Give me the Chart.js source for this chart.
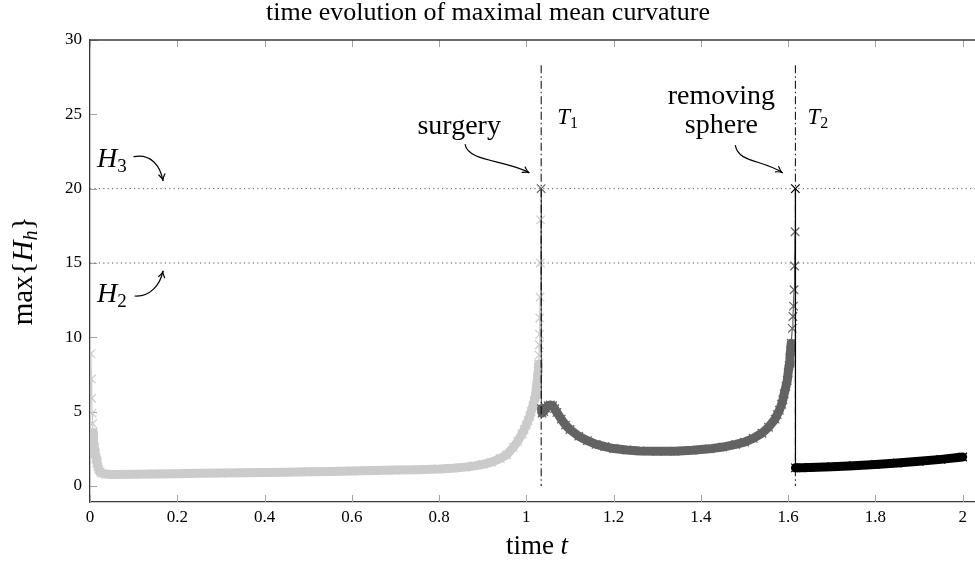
<!DOCTYPE html>
<html><head><meta charset="utf-8">
<script src="https://cdn.jsdelivr.net/npm/chart.js@4.4.0/dist/chart.umd.min.js"></script>
<style>html,body{margin:0;padding:0;background:#fff;overflow:hidden;width:975px;height:563px}canvas{display:block}</style>
</head><body><canvas id="c" width="990" height="563"></canvas>
<script>
// ---------- data ----------
const tLight = [0.002,0.003,0.004,0.005,0.006,0.007,0.008,0.010,0.012,0.014,0.016,0.018,0.020,0.023,0.027,0.035,0.05,
  0.1,0.15,0.2,0.25,0.3,0.35,0.4,0.45,0.5,0.55,0.6,0.65,0.7,0.75,0.8,0.83,0.86,0.88,0.9,0.92,0.94,0.955,0.97,0.98,0.99,0.995,
  1.0,1.004,1.008,1.011,1.015,1.018,1.02,1.022,1.024,1.0255,1.027,1.028,1.029,1.03,1.0305,1.031,1.0315,1.0322,1.0328];
const hLight = [8.9,7.2,5.9,4.9,4.2,3.6,3.1,2.6,2.2,1.85,1.55,1.3,1.1,0.95,0.85,0.8,0.78,
  0.79,0.81,0.83,0.85,0.87,0.89,0.91,0.93,0.96,0.98,1.01,1.04,1.07,1.1,1.15,1.2,1.27,1.35,1.45,1.6,1.85,2.1,2.6,3.0,3.5,3.8,
  4.1,4.4,4.7,5.0,5.4,5.7,6.0,6.4,6.8,7.2,7.7,8.2,8.8,9.5,10.2,11.3,12.7,15.0,17.9];

const tDark = [1.034,1.0345,1.036,1.04,1.045,1.05,1.055,1.06,1.065,1.07,1.08,1.09,1.1,1.12,1.14,1.16,1.18,1.2,1.23,1.26,
  1.3,1.34,1.38,1.42,1.45,1.48,1.5,1.52,1.54,1.555,1.57,1.575,1.58,1.585,1.588,1.591,1.595,1.598,1.6,1.602,1.604,1.6055,1.607,
  1.6095,1.611,1.6122,1.6135,1.6148,1.616];
const hDark = [20,5.2,4.9,5.0,5.25,5.4,5.45,5.4,5.2,4.95,4.5,4.1,3.8,3.35,3.05,2.8,2.65,2.52,2.42,2.36,
  2.33,2.34,2.4,2.5,2.62,2.8,2.95,3.2,3.55,3.95,4.5,4.8,5.1,5.5,5.8,6.2,6.7,7.1,7.6,8.1,8.6,9.1,9.6,
  10.6,11.4,12.1,13.2,14.8,17.1];

const tBlack = [1.6166,1.6168,1.63,1.65,1.7,1.75,1.8,1.85,1.9,1.95,2.0];
const hBlack = [20,1.22,1.23,1.25,1.3,1.37,1.45,1.55,1.66,1.79,1.95];

const surgeryTimes = [1.034, 1.6166];   // T1, T2
const vlineTop = 28.3, vlineBottom = 0;
const hLevels = [20, 15];               // H3, H2

const xMin = 0, xMax = 2.0397, yMin = -1.076, yMax = 30;
const xTickValues = [0,0.2,0.4,0.6,0.8,1,1.2,1.4,1.6,1.8,2];
const xTickLabels = ['0','0.2','0.4','0.6','0.8','1','1.2','1.4','1.6','1.8','2'];
const yTickValues = [0,5,10,15,20,25,30];
const yTickLabels = ['0','5','10','15','20','25','30'];

// ---------- styling ----------
const FONT = '"Liberation Serif","Times New Roman",serif';
const rm = n => `${n}px ${FONT}`;
const it = n => `italic ${n}px ${FONT}`;
const pts = (ts, hs) => ts.map((t, i) => ({x: t, y: hs[i]}));

const segW = thick => ({
  borderWidth: c => (Math.abs(c.p1.y - c.p0.y) < 8.5 && Math.abs(c.p1.x - c.p0.x) < 30) ? thick : 1.2
});

function series(ts, hs, color, order) {
  return {
    data: pts(ts, hs), showLine: true, borderColor: color, backgroundColor: color,
    pointStyle: 'crossRot', pointRadius: 6, pointBorderWidth: 1.2, pointBorderColor: color,
    borderWidth: 1.2, borderJoinStyle: 'round', borderCapStyle: 'round',
    segment: segW(9), order
  };
}

const datasets = [];
surgeryTimes.forEach(t => datasets.push({
  data: [{x: t, y: vlineTop}, {x: t, y: vlineBottom}], showLine: true, pointRadius: 0,
  borderColor: '#000', borderWidth: 1, borderDash: [8, 3, 1.5, 3], order: 0
}));
datasets.push(series(tBlack, hBlack, '#000000', 1));
datasets.push(series(tDark, hDark, '#636363', 2));
datasets.push(series(tLight, hLight, '#cbcbcb', 3));
hLevels.forEach(v => datasets.push({
  data: [{x: xMin, y: v}, {x: xMax, y: v}], showLine: true, pointRadius: 0,
  borderColor: '#555', borderWidth: 1, borderDash: [1.2, 3.2], order: 5
}));

function rich(ctx, parts, x, y, align) {
  let w = 0;
  const ws = parts.map(p => { ctx.font = p[1]; const m = ctx.measureText(p[0]).width; w += m; return m; });
  let cx = align === 'center' ? x - w / 2 : (align === 'right' ? x - w : x);
  ctx.textAlign = 'left'; ctx.textBaseline = 'alphabetic'; ctx.fillStyle = '#000';
  parts.forEach((p, i) => { ctx.font = p[1]; ctx.fillText(p[0], cx, y + (p[2] || 0)); cx += ws[i]; });
}
function arrow(ctx, p0, c1, c2, p1) {
  ctx.save();
  ctx.strokeStyle = '#000'; ctx.lineWidth = 1.2; ctx.lineCap = 'round';
  ctx.beginPath(); ctx.moveTo(p0[0], p0[1]); ctx.bezierCurveTo(c1[0], c1[1], c2[0], c2[1], p1[0], p1[1]); ctx.stroke();
  const ang = Math.atan2(p1[1] - c2[1], p1[0] - c2[0]);
  const L = 7, a = 0.45;
  ctx.beginPath();
  ctx.moveTo(p1[0] - L * Math.cos(ang - a), p1[1] - L * Math.sin(ang - a));
  ctx.quadraticCurveTo(p1[0] - 2 * Math.cos(ang), p1[1] - 2 * Math.sin(ang), p1[0], p1[1]);
  ctx.quadraticCurveTo(p1[0] - 2 * Math.cos(ang), p1[1] - 2 * Math.sin(ang), p1[0] - L * Math.cos(ang + a), p1[1] - L * Math.sin(ang + a));
  ctx.stroke();
  ctx.restore();
}

const frame = {
  id: 'frame',
  beforeDatasetsDraw(chart) {
    const {ctx, chartArea: a, scales: {x, y}} = chart;
    ctx.save();
    ctx.strokeStyle = '#a0a0a0'; ctx.lineWidth = 1;
    ctx.beginPath();
    xTickValues.forEach(v => {
      const px = Math.round(x.getPixelForValue(v)) + 0.5;
      ctx.moveTo(px, a.bottom); ctx.lineTo(px, a.bottom - 7);
      ctx.moveTo(px, a.top); ctx.lineTo(px, a.top + 7);
    });
    yTickValues.forEach(v => {
      const py = Math.round(y.getPixelForValue(v)) + 0.5;
      ctx.moveTo(a.left, py); ctx.lineTo(a.left + 7, py);
    });
    ctx.stroke();
    ctx.strokeStyle = '#3a3a3a'; ctx.lineWidth = 1.3;
    ctx.beginPath(); ctx.moveTo(a.left, a.top); ctx.lineTo(a.right + 20, a.top); ctx.stroke();
    ctx.restore();
  },
  afterDraw(chart) {
    const {ctx, chartArea: a, scales: {x, y}} = chart;
    ctx.save();
    // title & axis labels
    rich(ctx, [['time evolution of maximal mean curvature', rm(26)]], 488, 20, 'center');
    rich(ctx, [['time ', rm(27)], ['t', it(27)]], 537, 554, 'center');
    ctx.save(); ctx.translate(32, 271); ctx.rotate(-Math.PI / 2);
    rich(ctx, [['max{', rm(29)], ['H', it(29)], ['h', it(20), 5], ['}', rm(29)]], 0, 0, 'center');
    ctx.restore();

    const x0 = a.left;
    const y20 = y.getPixelForValue(hLevels[0]);
    const y15 = y.getPixelForValue(hLevels[1]);
    const xT1 = x.getPixelForValue(surgeryTimes[0]);
    const xT2 = x.getPixelForValue(surgeryTimes[1]);

    // H3, H2
    rich(ctx, [['H', it(28)], ['3', rm(19), 5]], x0 + 7, y20 - 22, 'left');
    arrow(ctx, [x0 + 44, y20 - 32], [x0 + 60, y20 - 35], [x0 + 70, y20 - 24], [x0 + 73, y20 - 8]);
    rich(ctx, [['H', it(28)], ['2', rm(19), 5]], x0 + 7, y15 + 39, 'left');
    arrow(ctx, [x0 + 45, y15 + 33], [x0 + 60, y15 + 34], [x0 + 70, y15 + 22], [x0 + 73, y15 + 8]);

    // surgery / T1
    rich(ctx, [['surgery', rm(28)]], xT1 - 82, y20 - 55, 'center');
    arrow(ctx, [xT1 - 76, y20 - 44], [xT1 - 73, y20 - 27], [xT1 - 36, y20 - 29], [xT1 - 12, y20 - 16]);
    rich(ctx, [['T', it(23)], ['1', rm(16), 4]], xT1 + 16, y20 - 65, 'left');

    // removing sphere / T2
    rich(ctx, [['removing', rm(28)]], xT2 - 74, y20 - 85, 'center');
    rich(ctx, [['sphere', rm(28)]], xT2 - 74, y20 - 56, 'center');
    arrow(ctx, [xT2 - 60, y20 - 43], [xT2 - 57, y20 - 26], [xT2 - 33, y20 - 29], [xT2 - 13, y20 - 16]);
    rich(ctx, [['T', it(23)], ['2', rm(16), 4]], xT2 + 12, y20 - 65, 'left');
    ctx.restore();
  }
};

new Chart(document.getElementById('c'), {
  type: 'scatter',
  data: {datasets},
  options: {
    responsive: false, animation: false, devicePixelRatio: 1, events: [],
    layout: {padding: {left: 0, right: 10, top: 40, bottom: 0}},
    plugins: {legend: {display: false}, tooltip: {enabled: false}, title: {display: false}},
    scales: {
      x: {
        type: 'linear', min: xMin, max: xMax,
        afterFit: s => { s.height = 61; },
        afterBuildTicks: s => { s.ticks = xTickValues.map(v => ({value: v})); },
        ticks: {callback: (v, i) => xTickLabels[i], font: {family: FONT, size: 17}, color: '#000',
                padding: 5, maxRotation: 0, autoSkip: false},
        grid: {display: false, drawTicks: false},
        border: {display: true, color: '#3a3a3a', width: 1.3}
      },
      y: {
        type: 'linear', min: yMin, max: yMax,
        afterFit: s => { s.width = 90; },
        afterBuildTicks: s => { s.ticks = yTickValues.map(v => ({value: v})); },
        ticks: {callback: (v, i) => yTickLabels[i], font: {family: FONT, size: 17}, color: '#000', padding: 8},
        grid: {display: false, drawTicks: false},
        border: {display: true, color: '#3a3a3a', width: 1.3}
      }
    }
  },
  plugins: [frame]
});
</script></body></html>
